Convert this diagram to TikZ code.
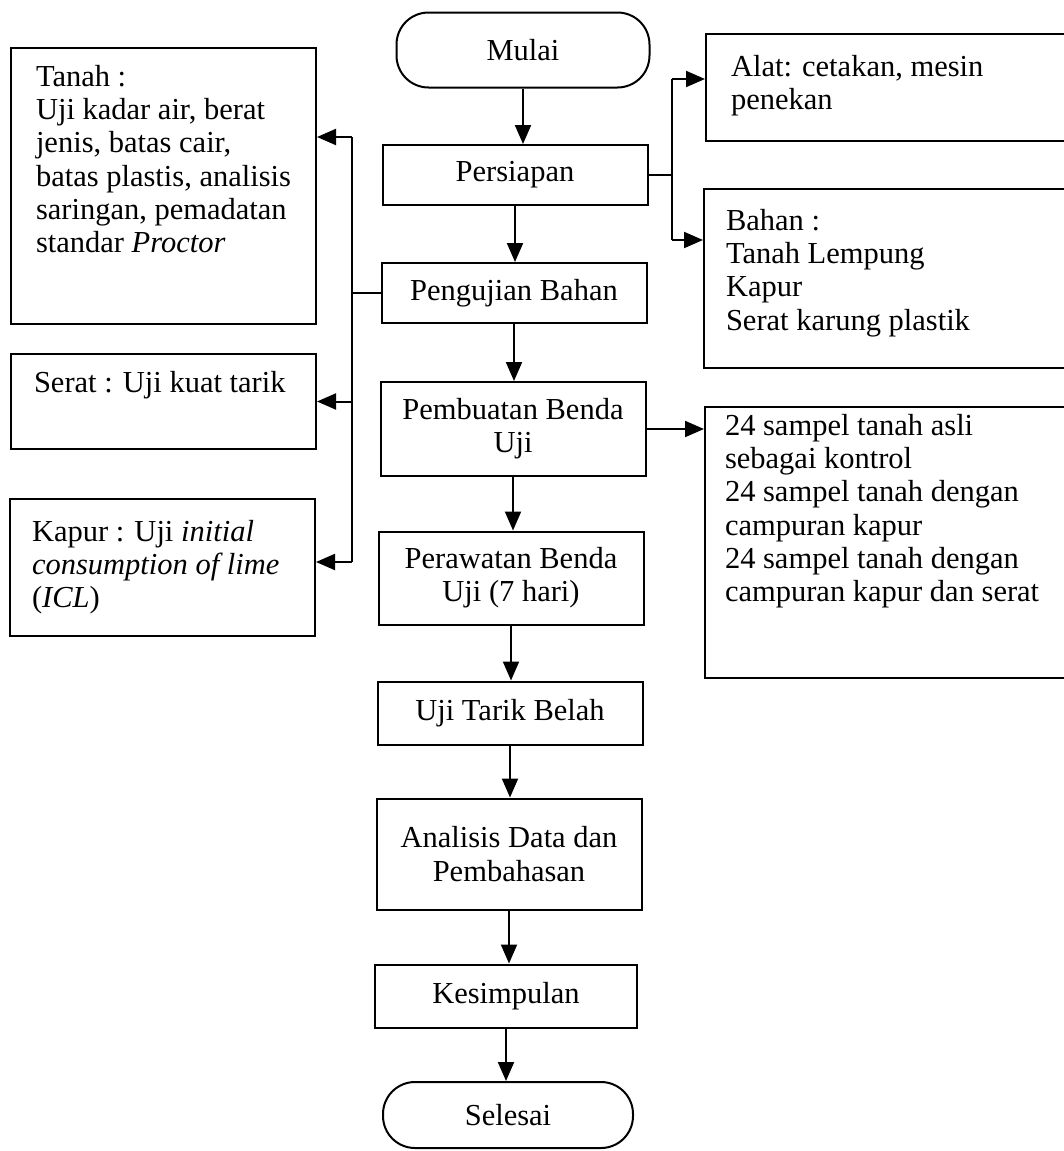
\documentclass[tikz,border=0pt]{standalone}
\usepackage{fontspec}
\setmainfont{Liberation Serif}
\usetikzlibrary{arrows.meta}

\begin{document}
\begin{tikzpicture}[x=1pt, y=-1pt, line width=2pt,
        >={Triangle[length=19pt,width=16pt]},
        font=\fontsize{30.5}{33.3}\selectfont,
        proses/.style={draw, minimum width=265pt, align=center, inner sep=2pt},
        terminal/.style={proses, rounded corners=32pt},
        kotak/.style={draw, anchor=north west, inner sep=0pt},
        isi/.style={anchor=north west, align=left, inner sep=0pt}]
        \useasboundingbox (0,0) rectangle (1063,1151);

        % alur utama
        \node[terminal, minimum width=253pt, minimum height=75pt] (mulai) at (523,50) {Mulai};
        \node[proses, minimum height=60pt] (persiapan) at (515,175) {Persiapan};
        \node[proses, minimum height=60pt] (pengujian) at (514,293) {Pengujian Bahan};
        \node[proses, minimum height=94pt] (pembuatan) at (513,429) {Pembuatan Benda\\Uji};
        \node[proses, minimum height=93pt] (perawatan) at (511,578) {Perawatan Benda\\Uji (7 hari)};
        \node[proses, minimum height=63pt] (ujitarik) at (510,713) {Uji Tarik Belah};
        \node[proses, minimum height=111pt] (analisis) at (509,854) {Analisis Data dan\\Pembahasan};
        \node[proses, minimum height=63pt, minimum width=262pt] (kesimpulan) at (506,996) {Kesimpulan};
        \node[terminal, minimum width=250pt, minimum height=66pt] (selesai) at (508,1115) {Selesai};

        \foreach \a/\b in {mulai/persiapan, persiapan/pengujian, pengujian/pembuatan,
                pembuatan/perawatan, perawatan/ujitarik, ujitarik/analisis,
                analisis/kesimpulan, kesimpulan/selesai}
                \draw[->] (\a.south) -- (\a.south |- \b.north);

        % kotak kiri
        \node[kotak, minimum width=305pt, minimum height=276pt] (tanah) at (10,47) {};
        \node[kotak, minimum width=305pt, minimum height=95pt] (serat) at (10,353) {};
        \node[kotak, minimum width=305pt, minimum height=137pt] (kapur) at (9,498) {};

        \node[isi] (tanahisi) at (35,64) {Tanah :\\Uji kadar air, berat\\jenis, batas cair,\\batas plastis, analisis\\saringan, pemadatan\\standar \textit{Proctor}};
        \node[isi] (seratisi) at (33,370) {Serat : Uji kuat tarik};
        \node[isi] (kapurisi) at (31,519) {Kapur : Uji \textit{initial}\\\textit{consumption of lime}\\(\textit{ICL})};

        % kotak kanan
        \node[kotak, minimum width=380pt, minimum height=107pt] (alat) at (705,33) {};
        \node[kotak, minimum width=380pt, minimum height=179pt] (bahan) at (703,188) {};
        \node[kotak, minimum width=380pt, minimum height=271pt] (sampel) at (704,406) {};

        \node[isi] (alatisi) at (730,54) {Alat: cetakan, mesin\\penekan};
        \node[isi] (bahanisi) at (725,208) {Bahan :\\Tanah Lempung\\Kapur\\Serat karung plastik};
        \node[isi] (sampelisi) at (724,413) {24 sampel tanah asli\\sebagai kontrol\\24 sampel tanah dengan\\campuran kapur\\24 sampel tanah dengan\\campuran kapur dan serat};

        \path
        (352,137) coordinate (kiri1)
        (352,562) coordinate (kiri2)
        (672,79) coordinate (kanan1)
        (672,240) coordinate (kanan2)
        ;

        \draw (kiri1) -- (kiri2);
        \draw (pengujian.west) -- (pengujian.west -| kiri1);
        \draw[->] (kiri1) -- (kiri1 -| tanah.east);
        \draw[->] (serat.east -| kiri1) -- (serat.east);
        \draw[->] (kiri2) -- (kiri2 -| kapur.east);

        \draw (kanan1) -- (kanan2);
        \draw (persiapan.east) -- (persiapan.east -| kanan1);
        \draw[->] (kanan1) -- (kanan1 -| alat.west);
        \draw[->] (kanan2) -- (kanan2 -| bahan.west);
        \draw[->] (pembuatan.east) -- (pembuatan.east -| sampel.west);
\end{tikzpicture}
\end{document}
